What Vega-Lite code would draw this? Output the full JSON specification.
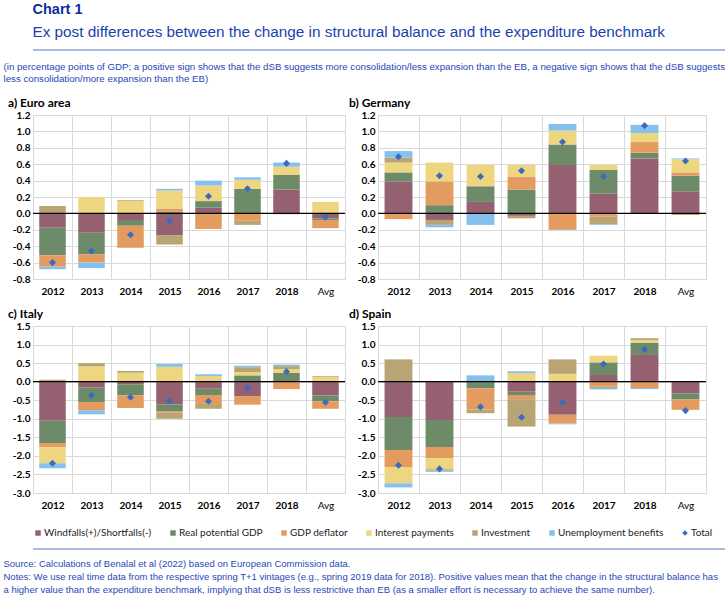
{
  "$schema": "https://vega.github.io/schema/vega-lite/v6.json",
  "background": "white",
  "padding": {"left": 3, "right": 3, "top": 2, "bottom": 2},
  "autosize": {"type": "pad"},
  "config": {
    "font": "Liberation Sans",
    "view": {"stroke": null}
  },
  "datasets": {
    "d": [
      {"panel": "EA", "year": "2012", "comp": "Windfalls(+)/Shortfalls(-)", "value": -0.175},
      {"panel": "EA", "year": "2012", "comp": "Real potential GDP", "value": -0.335},
      {"panel": "EA", "year": "2012", "comp": "GDP deflator", "value": -0.14},
      {"panel": "EA", "year": "2012", "comp": "Investment", "value": 0.09},
      {"panel": "EA", "year": "2012", "comp": "Unemployment benefits", "value": -0.03},
      {"panel": "EA", "year": "2012", "comp": "Total", "value": -0.6},
      {"panel": "EA", "year": "2013", "comp": "Windfalls(+)/Shortfalls(-)", "value": -0.236},
      {"panel": "EA", "year": "2013", "comp": "Real potential GDP", "value": -0.264},
      {"panel": "EA", "year": "2013", "comp": "GDP deflator", "value": -0.1},
      {"panel": "EA", "year": "2013", "comp": "Interest payments", "value": 0.2},
      {"panel": "EA", "year": "2013", "comp": "Unemployment benefits", "value": -0.067},
      {"panel": "EA", "year": "2013", "comp": "Total", "value": -0.46},
      {"panel": "EA", "year": "2014", "comp": "Windfalls(+)/Shortfalls(-)", "value": -0.08},
      {"panel": "EA", "year": "2014", "comp": "Real potential GDP", "value": -0.07},
      {"panel": "EA", "year": "2014", "comp": "GDP deflator", "value": -0.27},
      {"panel": "EA", "year": "2014", "comp": "Interest payments", "value": 0.15},
      {"panel": "EA", "year": "2014", "comp": "Investment", "value": 0.01},
      {"panel": "EA", "year": "2014", "comp": "Total", "value": -0.26},
      {"panel": "EA", "year": "2015", "comp": "Windfalls(+)/Shortfalls(-)", "value": -0.27},
      {"panel": "EA", "year": "2015", "comp": "Real potential GDP", "value": 0.02},
      {"panel": "EA", "year": "2015", "comp": "GDP deflator", "value": 0.04},
      {"panel": "EA", "year": "2015", "comp": "Interest payments", "value": 0.22},
      {"panel": "EA", "year": "2015", "comp": "Investment", "value": -0.11},
      {"panel": "EA", "year": "2015", "comp": "Unemployment benefits", "value": 0.02},
      {"panel": "EA", "year": "2015", "comp": "Total", "value": -0.09},
      {"panel": "EA", "year": "2016", "comp": "Windfalls(+)/Shortfalls(-)", "value": 0.07},
      {"panel": "EA", "year": "2016", "comp": "Real potential GDP", "value": 0.08},
      {"panel": "EA", "year": "2016", "comp": "GDP deflator", "value": -0.19},
      {"panel": "EA", "year": "2016", "comp": "Interest payments", "value": 0.19},
      {"panel": "EA", "year": "2016", "comp": "Unemployment benefits", "value": 0.06},
      {"panel": "EA", "year": "2016", "comp": "Total", "value": 0.21},
      {"panel": "EA", "year": "2017", "comp": "Real potential GDP", "value": 0.3},
      {"panel": "EA", "year": "2017", "comp": "GDP deflator", "value": -0.09},
      {"panel": "EA", "year": "2017", "comp": "Interest payments", "value": 0.11},
      {"panel": "EA", "year": "2017", "comp": "Investment", "value": -0.05},
      {"panel": "EA", "year": "2017", "comp": "Unemployment benefits", "value": 0.03},
      {"panel": "EA", "year": "2017", "comp": "Total", "value": 0.3},
      {"panel": "EA", "year": "2018", "comp": "Windfalls(+)/Shortfalls(-)", "value": 0.29},
      {"panel": "EA", "year": "2018", "comp": "Real potential GDP", "value": 0.18},
      {"panel": "EA", "year": "2018", "comp": "GDP deflator", "value": -0.01},
      {"panel": "EA", "year": "2018", "comp": "Interest payments", "value": 0.1},
      {"panel": "EA", "year": "2018", "comp": "Unemployment benefits", "value": 0.05},
      {"panel": "EA", "year": "2018", "comp": "Total", "value": 0.61},
      {"panel": "EA", "year": "Avg", "comp": "Windfalls(+)/Shortfalls(-)", "value": -0.06},
      {"panel": "EA", "year": "Avg", "comp": "Real potential GDP", "value": -0.02},
      {"panel": "EA", "year": "Avg", "comp": "GDP deflator", "value": -0.1},
      {"panel": "EA", "year": "Avg", "comp": "Interest payments", "value": 0.14},
      {"panel": "EA", "year": "Avg", "comp": "Total", "value": -0.045},

      {"panel": "DE", "year": "2012", "comp": "Windfalls(+)/Shortfalls(-)", "value": 0.39},
      {"panel": "DE", "year": "2012", "comp": "Real potential GDP", "value": 0.11},
      {"panel": "DE", "year": "2012", "comp": "GDP deflator", "value": -0.07},
      {"panel": "DE", "year": "2012", "comp": "Interest payments", "value": 0.12},
      {"panel": "DE", "year": "2012", "comp": "Investment", "value": 0.06},
      {"panel": "DE", "year": "2012", "comp": "Unemployment benefits", "value": 0.08},
      {"panel": "DE", "year": "2012", "comp": "Total", "value": 0.69},
      {"panel": "DE", "year": "2013", "comp": "Windfalls(+)/Shortfalls(-)", "value": -0.08},
      {"panel": "DE", "year": "2013", "comp": "Real potential GDP", "value": 0.1},
      {"panel": "DE", "year": "2013", "comp": "GDP deflator", "value": 0.29},
      {"panel": "DE", "year": "2013", "comp": "Interest payments", "value": 0.23},
      {"panel": "DE", "year": "2013", "comp": "Investment", "value": -0.06},
      {"panel": "DE", "year": "2013", "comp": "Unemployment benefits", "value": -0.03},
      {"panel": "DE", "year": "2013", "comp": "Total", "value": 0.46},
      {"panel": "DE", "year": "2014", "comp": "Windfalls(+)/Shortfalls(-)", "value": 0.14},
      {"panel": "DE", "year": "2014", "comp": "Real potential GDP", "value": 0.19},
      {"panel": "DE", "year": "2014", "comp": "GDP deflator", "value": 0.01},
      {"panel": "DE", "year": "2014", "comp": "Interest payments", "value": 0.25},
      {"panel": "DE", "year": "2014", "comp": "Unemployment benefits", "value": -0.14},
      {"panel": "DE", "year": "2014", "comp": "Total", "value": 0.45},
      {"panel": "DE", "year": "2015", "comp": "Windfalls(+)/Shortfalls(-)", "value": -0.03},
      {"panel": "DE", "year": "2015", "comp": "Real potential GDP", "value": 0.29},
      {"panel": "DE", "year": "2015", "comp": "GDP deflator", "value": 0.16},
      {"panel": "DE", "year": "2015", "comp": "Interest payments", "value": 0.14},
      {"panel": "DE", "year": "2015", "comp": "Investment", "value": -0.03},
      {"panel": "DE", "year": "2015", "comp": "Total", "value": 0.52},
      {"panel": "DE", "year": "2016", "comp": "Windfalls(+)/Shortfalls(-)", "value": 0.59},
      {"panel": "DE", "year": "2016", "comp": "Real potential GDP", "value": 0.25},
      {"panel": "DE", "year": "2016", "comp": "GDP deflator", "value": -0.19},
      {"panel": "DE", "year": "2016", "comp": "Interest payments", "value": 0.17},
      {"panel": "DE", "year": "2016", "comp": "Investment", "value": -0.01},
      {"panel": "DE", "year": "2016", "comp": "Unemployment benefits", "value": 0.08},
      {"panel": "DE", "year": "2016", "comp": "Total", "value": 0.87},
      {"panel": "DE", "year": "2017", "comp": "Windfalls(+)/Shortfalls(-)", "value": 0.24},
      {"panel": "DE", "year": "2017", "comp": "Real potential GDP", "value": 0.29},
      {"panel": "DE", "year": "2017", "comp": "GDP deflator", "value": -0.04},
      {"panel": "DE", "year": "2017", "comp": "Interest payments", "value": 0.06},
      {"panel": "DE", "year": "2017", "comp": "Investment", "value": -0.09},
      {"panel": "DE", "year": "2017", "comp": "Unemployment benefits", "value": -0.01},
      {"panel": "DE", "year": "2017", "comp": "Total", "value": 0.45},
      {"panel": "DE", "year": "2018", "comp": "Windfalls(+)/Shortfalls(-)", "value": 0.67},
      {"panel": "DE", "year": "2018", "comp": "Real potential GDP", "value": 0.07},
      {"panel": "DE", "year": "2018", "comp": "GDP deflator", "value": 0.13},
      {"panel": "DE", "year": "2018", "comp": "Interest payments", "value": 0.11},
      {"panel": "DE", "year": "2018", "comp": "Unemployment benefits", "value": 0.1},
      {"panel": "DE", "year": "2018", "comp": "Total", "value": 1.07},
      {"panel": "DE", "year": "Avg", "comp": "Windfalls(+)/Shortfalls(-)", "value": 0.27},
      {"panel": "DE", "year": "Avg", "comp": "Real potential GDP", "value": 0.19},
      {"panel": "DE", "year": "Avg", "comp": "GDP deflator", "value": 0.04},
      {"panel": "DE", "year": "Avg", "comp": "Interest payments", "value": 0.16},
      {"panel": "DE", "year": "Avg", "comp": "Investment", "value": -0.02},
      {"panel": "DE", "year": "Avg", "comp": "Unemployment benefits", "value": 0.01},
      {"panel": "DE", "year": "Avg", "comp": "Total", "value": 0.64},

      {"panel": "IT", "year": "2012", "comp": "Windfalls(+)/Shortfalls(-)", "value": -1.05},
      {"panel": "IT", "year": "2012", "comp": "Real potential GDP", "value": -0.6},
      {"panel": "IT", "year": "2012", "comp": "GDP deflator", "value": -0.12},
      {"panel": "IT", "year": "2012", "comp": "Interest payments", "value": -0.43},
      {"panel": "IT", "year": "2012", "comp": "Investment", "value": 0.05},
      {"panel": "IT", "year": "2012", "comp": "Unemployment benefits", "value": -0.13},
      {"panel": "IT", "year": "2012", "comp": "Total", "value": -2.2},
      {"panel": "IT", "year": "2013", "comp": "Windfalls(+)/Shortfalls(-)", "value": -0.16},
      {"panel": "IT", "year": "2013", "comp": "Real potential GDP", "value": -0.39},
      {"panel": "IT", "year": "2013", "comp": "GDP deflator", "value": -0.22},
      {"panel": "IT", "year": "2013", "comp": "Interest payments", "value": 0.41},
      {"panel": "IT", "year": "2013", "comp": "Investment", "value": 0.09},
      {"panel": "IT", "year": "2013", "comp": "Unemployment benefits", "value": -0.11},
      {"panel": "IT", "year": "2013", "comp": "Total", "value": -0.37},
      {"panel": "IT", "year": "2014", "comp": "Windfalls(+)/Shortfalls(-)", "value": -0.07},
      {"panel": "IT", "year": "2014", "comp": "Real potential GDP", "value": -0.3},
      {"panel": "IT", "year": "2014", "comp": "GDP deflator", "value": -0.34},
      {"panel": "IT", "year": "2014", "comp": "Interest payments", "value": 0.24},
      {"panel": "IT", "year": "2014", "comp": "Investment", "value": 0.05},
      {"panel": "IT", "year": "2014", "comp": "Total", "value": -0.42},
      {"panel": "IT", "year": "2015", "comp": "Windfalls(+)/Shortfalls(-)", "value": -0.61},
      {"panel": "IT", "year": "2015", "comp": "Real potential GDP", "value": -0.18},
      {"panel": "IT", "year": "2015", "comp": "GDP deflator", "value": -0.04},
      {"panel": "IT", "year": "2015", "comp": "Interest payments", "value": 0.4},
      {"panel": "IT", "year": "2015", "comp": "Investment", "value": -0.17},
      {"panel": "IT", "year": "2015", "comp": "Unemployment benefits", "value": 0.08},
      {"panel": "IT", "year": "2015", "comp": "Total", "value": -0.51},
      {"panel": "IT", "year": "2016", "comp": "Windfalls(+)/Shortfalls(-)", "value": -0.19},
      {"panel": "IT", "year": "2016", "comp": "Real potential GDP", "value": -0.17},
      {"panel": "IT", "year": "2016", "comp": "GDP deflator", "value": -0.24},
      {"panel": "IT", "year": "2016", "comp": "Interest payments", "value": 0.15},
      {"panel": "IT", "year": "2016", "comp": "Investment", "value": -0.13},
      {"panel": "IT", "year": "2016", "comp": "Unemployment benefits", "value": 0.05},
      {"panel": "IT", "year": "2016", "comp": "Total", "value": -0.53},
      {"panel": "IT", "year": "2017", "comp": "Windfalls(+)/Shortfalls(-)", "value": -0.4},
      {"panel": "IT", "year": "2017", "comp": "Real potential GDP", "value": 0.17},
      {"panel": "IT", "year": "2017", "comp": "GDP deflator", "value": -0.22},
      {"panel": "IT", "year": "2017", "comp": "Interest payments", "value": 0.09},
      {"panel": "IT", "year": "2017", "comp": "Investment", "value": 0.13},
      {"panel": "IT", "year": "2017", "comp": "Unemployment benefits", "value": 0.04},
      {"panel": "IT", "year": "2017", "comp": "Total", "value": -0.16},
      {"panel": "IT", "year": "2018", "comp": "Real potential GDP", "value": 0.24},
      {"panel": "IT", "year": "2018", "comp": "GDP deflator", "value": -0.2},
      {"panel": "IT", "year": "2018", "comp": "Interest payments", "value": 0.1},
      {"panel": "IT", "year": "2018", "comp": "Investment", "value": 0.08},
      {"panel": "IT", "year": "2018", "comp": "Unemployment benefits", "value": 0.04},
      {"panel": "IT", "year": "2018", "comp": "Total", "value": 0.27},
      {"panel": "IT", "year": "Avg", "comp": "Windfalls(+)/Shortfalls(-)", "value": -0.37},
      {"panel": "IT", "year": "Avg", "comp": "Real potential GDP", "value": -0.16},
      {"panel": "IT", "year": "Avg", "comp": "GDP deflator", "value": -0.2},
      {"panel": "IT", "year": "Avg", "comp": "Interest payments", "value": 0.13},
      {"panel": "IT", "year": "Avg", "comp": "Investment", "value": 0.02},
      {"panel": "IT", "year": "Avg", "comp": "Total", "value": -0.555},

      {"panel": "ES", "year": "2012", "comp": "Windfalls(+)/Shortfalls(-)", "value": -0.95},
      {"panel": "ES", "year": "2012", "comp": "Real potential GDP", "value": -0.89},
      {"panel": "ES", "year": "2012", "comp": "GDP deflator", "value": -0.46},
      {"panel": "ES", "year": "2012", "comp": "Interest payments", "value": -0.44},
      {"panel": "ES", "year": "2012", "comp": "Investment", "value": 0.6},
      {"panel": "ES", "year": "2012", "comp": "Unemployment benefits", "value": -0.11},
      {"panel": "ES", "year": "2012", "comp": "Total", "value": -2.25},
      {"panel": "ES", "year": "2013", "comp": "Windfalls(+)/Shortfalls(-)", "value": -1.03},
      {"panel": "ES", "year": "2013", "comp": "Real potential GDP", "value": -0.73},
      {"panel": "ES", "year": "2013", "comp": "GDP deflator", "value": -0.3},
      {"panel": "ES", "year": "2013", "comp": "Interest payments", "value": -0.3},
      {"panel": "ES", "year": "2013", "comp": "Investment", "value": -0.04},
      {"panel": "ES", "year": "2013", "comp": "Unemployment benefits", "value": -0.03},
      {"panel": "ES", "year": "2013", "comp": "Total", "value": -2.35},
      {"panel": "ES", "year": "2014", "comp": "Real potential GDP", "value": -0.18},
      {"panel": "ES", "year": "2014", "comp": "GDP deflator", "value": -0.57},
      {"panel": "ES", "year": "2014", "comp": "Investment", "value": -0.1},
      {"panel": "ES", "year": "2014", "comp": "Unemployment benefits", "value": 0.17},
      {"panel": "ES", "year": "2014", "comp": "Total", "value": -0.68},
      {"panel": "ES", "year": "2015", "comp": "Windfalls(+)/Shortfalls(-)", "value": -0.27},
      {"panel": "ES", "year": "2015", "comp": "Real potential GDP", "value": -0.09},
      {"panel": "ES", "year": "2015", "comp": "GDP deflator", "value": -0.11},
      {"panel": "ES", "year": "2015", "comp": "Interest payments", "value": 0.23},
      {"panel": "ES", "year": "2015", "comp": "Investment", "value": -0.74},
      {"panel": "ES", "year": "2015", "comp": "Unemployment benefits", "value": 0.05},
      {"panel": "ES", "year": "2015", "comp": "Total", "value": -0.96},
      {"panel": "ES", "year": "2016", "comp": "Windfalls(+)/Shortfalls(-)", "value": -0.89},
      {"panel": "ES", "year": "2016", "comp": "GDP deflator", "value": -0.24},
      {"panel": "ES", "year": "2016", "comp": "Interest payments", "value": 0.21},
      {"panel": "ES", "year": "2016", "comp": "Investment", "value": 0.39},
      {"panel": "ES", "year": "2016", "comp": "Unemployment benefits", "value": -0.02},
      {"panel": "ES", "year": "2016", "comp": "Total", "value": -0.555},
      {"panel": "ES", "year": "2017", "comp": "Windfalls(+)/Shortfalls(-)", "value": 0.18},
      {"panel": "ES", "year": "2017", "comp": "Real potential GDP", "value": 0.34},
      {"panel": "ES", "year": "2017", "comp": "GDP deflator", "value": -0.13},
      {"panel": "ES", "year": "2017", "comp": "Interest payments", "value": 0.18},
      {"panel": "ES", "year": "2017", "comp": "Investment", "value": -0.04},
      {"panel": "ES", "year": "2017", "comp": "Unemployment benefits", "value": -0.04},
      {"panel": "ES", "year": "2017", "comp": "Total", "value": 0.475},
      {"panel": "ES", "year": "2018", "comp": "Windfalls(+)/Shortfalls(-)", "value": 0.72},
      {"panel": "ES", "year": "2018", "comp": "Real potential GDP", "value": 0.33},
      {"panel": "ES", "year": "2018", "comp": "GDP deflator", "value": -0.17},
      {"panel": "ES", "year": "2018", "comp": "Interest payments", "value": 0.07},
      {"panel": "ES", "year": "2018", "comp": "Investment", "value": 0.05},
      {"panel": "ES", "year": "2018", "comp": "Unemployment benefits", "value": -0.03},
      {"panel": "ES", "year": "2018", "comp": "Total", "value": 0.87},
      {"panel": "ES", "year": "Avg", "comp": "Windfalls(+)/Shortfalls(-)", "value": -0.32},
      {"panel": "ES", "year": "Avg", "comp": "Real potential GDP", "value": -0.16},
      {"panel": "ES", "year": "Avg", "comp": "GDP deflator", "value": -0.28},
      {"panel": "ES", "year": "Avg", "comp": "Total", "value": -0.78}
    ]
  },
  "title": {
    "text": [
      "Source: Calculations of Benalal et al (2022) based on European Commission data.",
      "Notes: We use real time data from the respective spring T+1 vintages (e.g., spring 2019 data for 2018). Positive values mean that the change in the structural balance has",
      "a higher value than the expenditure benchmark, implying that dSB is less restrictive than EB (as a smaller effort is necessary to achieve the same number)."
    ],
    "orient": "bottom",
    "anchor": "start",
    "frame": "bounds",
    "font": "Liberation Sans",
    "fontSize": 9.5,
    "fontWeight": "normal",
    "color": "#1f47b8",
    "lineHeight": 13,
    "offset": 9
  },
  "resolve": {"scale": {"color": "independent"}},
  "columns": 1,
  "align": "none",
  "spacing": 10,
  "concat": [
    {
      "title": {
        "text": "Chart 1",
        "subtitle": "Ex post differences between the change in structural balance and the expenditure benchmark",
        "anchor": "start",
        "frame": "bounds",
        "font": "Liberation Sans",
        "fontSize": 14.5,
        "fontWeight": "bold",
        "color": "#0a2f9a",
        "subtitleFont": "Liberation Sans",
        "subtitleFontSize": 15.3,
        "subtitleColor": "#1a42ad",
        "subtitlePadding": 7,
        "offset": 8
      },
      "data": {"values": [{}]},
      "mark": {"type": "rule", "color": "#5a78c8", "strokeWidth": 1},
      "encoding": {"y": {"datum": 0, "type": "quantitative", "scale": {"domain": [0, 1]}, "axis": null}},
      "width": 719,
      "height": 1
    },
    {
      "title": {
        "text": [
          "(in percentage points of GDP; a positive sign shows that the dSB suggests more consolidation/less expansion than the EB, a negative sign shows that the dSB suggests",
          "less consolidation/more expansion than the EB)"
        ],
        "anchor": "start",
        "frame": "bounds",
        "font": "Liberation Sans",
        "fontSize": 9.7,
        "fontWeight": "normal",
        "color": "#1f47b8",
        "lineHeight": 12,
        "offset": 13
      },
      "data": {"name": "d"},
      "columns": 2,
      "spacing": {"column": 1, "row": 10},
      "resolve": {"scale": {"y": "independent", "x": "independent"}},
      "concat": [
        {
          "title": {"text": "a) Euro area", "anchor": "start", "frame": "bounds", "dx": 4, "font": "Lato", "fontSize": 12, "fontWeight": "bold", "color": "black", "offset": 0},
          "width": 312,
          "height": 164,
          "view": {"stroke": "#d9d9d9"},
          "transform": [{"filter": "datum.panel == 'EA'"}],
          "layer": [
            {
              "transform": [
                {"filter": "datum.comp != 'Total'"},
                {"calculate": "indexof(['Windfalls(+)/Shortfalls(-)','Real potential GDP','GDP deflator','Interest payments','Investment','Unemployment benefits'], datum.comp)", "as": "ord"}
              ],
              "mark": {"type": "bar", "width": {"band": 0.68}},
              "encoding": {
                "x": {"field": "year", "type": "nominal", "sort": ["2012","2013","2014","2015","2016","2017","2018","Avg"], "scale": {"paddingInner": 0, "paddingOuter": 0},
                  "axis": {"title": null, "ticks": false, "domain": false, "grid": true, "gridColor": "#d9d9d9", "tickBand": "extent", "labelAngle": 0, "labelFont": "Lato", "labelFontSize": 10, "labelColor": "black", "labelPadding": 7, "labelFontWeight": {"condition": {"test": "datum.value == 'Avg'", "value": "normal"}, "value": "bold"}}},
                "y": {"field": "value", "type": "quantitative", "stack": "zero", "scale": {"domain": [-0.8, 1.2], "nice": false},
                  "axis": {"title": null, "values": [-0.8,-0.6,-0.4,-0.2,0,0.2,0.4,0.6,0.8,1.0,1.2], "tickCount": 20, "format": ".1f", "labelExpr": "replace(datum.label, '\u2212', '-')", "labelOverlap": false, "ticks": false, "domain": false, "grid": true, "gridColor": "#d9d9d9", "labelFont": "Lato", "labelFontSize": 10, "labelFontWeight": "bold", "labelColor": "black", "labelPadding": 3, "minExtent": 29}},
                "color": {"field": "comp", "type": "nominal",
                  "scale": {"domain": ["Windfalls(+)/Shortfalls(-)","Real potential GDP","GDP deflator","Interest payments","Investment","Unemployment benefits","Total"], "range": ["#956070","#6e8b69","#e49b5f","#edd67f","#b9a574","#85c1ec","#3a6bc0"]},
                  "legend": {"title": null, "orient": "bottom", "direction": "horizontal", "columns": 7, "symbolType": "square", "symbolSize": 30, "symbolStrokeWidth": 0, "labelFont": "Lato", "labelFontSize": 10, "labelColor": "#222222", "columnPadding": 16, "labelOffset": 1, "offset": 17,
                    "encode": {"symbols": {"update": {"shape": {"signal": "datum.value === 'Total' ? 'diamond' : 'square'"}}}}}},
                "order": {"field": "ord", "type": "quantitative"}
              }
            },
            {
              "data": {"values": [{}]},
              "mark": {"type": "rule", "color": "black", "strokeWidth": 1.2},
              "encoding": {"y": {"datum": 0}}
            },
            {
              "transform": [{"filter": "datum.comp == 'Total'"}],
              "mark": {"type": "point", "shape": "diamond", "filled": true, "size": 50, "opacity": 1},
              "encoding": {
                "x": {"field": "year", "type": "nominal", "sort": ["2012","2013","2014","2015","2016","2017","2018","Avg"]},
                "y": {"field": "value", "type": "quantitative", "scale": {"domain": [-0.8, 1.2], "nice": false}},
                "color": {"datum": "Total"}
              }
            }
          ]
        },
        {
          "title": {"text": "b) Germany", "anchor": "start", "frame": "bounds", "dx": 0, "font": "Lato", "fontSize": 12, "fontWeight": "bold", "color": "black", "offset": 0},
          "width": 328,
          "height": 164,
          "view": {"stroke": "#d9d9d9"},
          "transform": [{"filter": "datum.panel == 'DE'"}],
          "layer": [
            {
              "transform": [
                {"filter": "datum.comp != 'Total'"},
                {"calculate": "indexof(['Windfalls(+)/Shortfalls(-)','Real potential GDP','GDP deflator','Interest payments','Investment','Unemployment benefits'], datum.comp)", "as": "ord"}
              ],
              "mark": {"type": "bar", "width": {"band": 0.68}},
              "encoding": {
                "x": {"field": "year", "type": "nominal", "sort": ["2012","2013","2014","2015","2016","2017","2018","Avg"], "scale": {"paddingInner": 0, "paddingOuter": 0},
                  "axis": {"title": null, "ticks": false, "domain": false, "grid": true, "gridColor": "#d9d9d9", "tickBand": "extent", "labelAngle": 0, "labelFont": "Lato", "labelFontSize": 10, "labelColor": "black", "labelPadding": 7, "labelFontWeight": {"condition": {"test": "datum.value == 'Avg'", "value": "normal"}, "value": "bold"}}},
                "y": {"field": "value", "type": "quantitative", "stack": "zero", "scale": {"domain": [-0.8, 1.2], "nice": false},
                  "axis": {"title": null, "values": [-0.8,-0.6,-0.4,-0.2,0,0.2,0.4,0.6,0.8,1.0,1.2], "tickCount": 20, "format": ".1f", "labelExpr": "replace(datum.label, '\u2212', '-')", "labelOverlap": false, "ticks": false, "domain": false, "grid": true, "gridColor": "#d9d9d9", "labelFont": "Lato", "labelFontSize": 10, "labelFontWeight": "bold", "labelColor": "black", "labelPadding": 3, "minExtent": 29}},
                "color": {"field": "comp", "type": "nominal"},
                "order": {"field": "ord", "type": "quantitative"}
              }
            },
            {
              "data": {"values": [{}]},
              "mark": {"type": "rule", "color": "black", "strokeWidth": 1.2},
              "encoding": {"y": {"datum": 0}}
            },
            {
              "transform": [{"filter": "datum.comp == 'Total'"}],
              "mark": {"type": "point", "shape": "diamond", "filled": true, "size": 50, "opacity": 1},
              "encoding": {
                "x": {"field": "year", "type": "nominal", "sort": ["2012","2013","2014","2015","2016","2017","2018","Avg"]},
                "y": {"field": "value", "type": "quantitative", "scale": {"domain": [-0.8, 1.2], "nice": false}},
                "color": {"datum": "Total"}
              }
            }
          ]
        },
        {
          "title": {"text": "c) Italy", "anchor": "start", "frame": "bounds", "dx": 4, "font": "Lato", "fontSize": 12, "fontWeight": "bold", "color": "black", "offset": 0},
          "width": 312,
          "height": 167,
          "view": {"stroke": "#d9d9d9"},
          "transform": [{"filter": "datum.panel == 'IT'"}],
          "layer": [
            {
              "transform": [
                {"filter": "datum.comp != 'Total'"},
                {"calculate": "indexof(['Windfalls(+)/Shortfalls(-)','Real potential GDP','GDP deflator','Interest payments','Investment','Unemployment benefits'], datum.comp)", "as": "ord"}
              ],
              "mark": {"type": "bar", "width": {"band": 0.68}},
              "encoding": {
                "x": {"field": "year", "type": "nominal", "sort": ["2012","2013","2014","2015","2016","2017","2018","Avg"], "scale": {"paddingInner": 0, "paddingOuter": 0},
                  "axis": {"title": null, "ticks": false, "domain": false, "grid": true, "gridColor": "#d9d9d9", "tickBand": "extent", "labelAngle": 0, "labelFont": "Lato", "labelFontSize": 10, "labelColor": "black", "labelPadding": 7, "labelFontWeight": {"condition": {"test": "datum.value == 'Avg'", "value": "normal"}, "value": "bold"}}},
                "y": {"field": "value", "type": "quantitative", "stack": "zero", "scale": {"domain": [-3.0, 1.5], "nice": false},
                  "axis": {"title": null, "values": [-3.0,-2.5,-2.0,-1.5,-1.0,-0.5,0,0.5,1.0,1.5], "tickCount": 20, "format": ".1f", "labelExpr": "replace(datum.label, '\u2212', '-')", "labelOverlap": false, "ticks": false, "domain": false, "grid": true, "gridColor": "#d9d9d9", "labelFont": "Lato", "labelFontSize": 10, "labelFontWeight": "bold", "labelColor": "black", "labelPadding": 3, "minExtent": 29}},
                "color": {"field": "comp", "type": "nominal"},
                "order": {"field": "ord", "type": "quantitative"}
              }
            },
            {
              "data": {"values": [{}]},
              "mark": {"type": "rule", "color": "black", "strokeWidth": 1.2},
              "encoding": {"y": {"datum": 0}}
            },
            {
              "transform": [{"filter": "datum.comp == 'Total'"}],
              "mark": {"type": "point", "shape": "diamond", "filled": true, "size": 50, "opacity": 1},
              "encoding": {
                "x": {"field": "year", "type": "nominal", "sort": ["2012","2013","2014","2015","2016","2017","2018","Avg"]},
                "y": {"field": "value", "type": "quantitative", "scale": {"domain": [-3.0, 1.5], "nice": false}},
                "color": {"datum": "Total"}
              }
            }
          ]
        },
        {
          "title": {"text": "d) Spain", "anchor": "start", "frame": "bounds", "dx": 0, "font": "Lato", "fontSize": 12, "fontWeight": "bold", "color": "black", "offset": 0},
          "width": 328,
          "height": 167,
          "view": {"stroke": "#d9d9d9"},
          "transform": [{"filter": "datum.panel == 'ES'"}],
          "layer": [
            {
              "transform": [
                {"filter": "datum.comp != 'Total'"},
                {"calculate": "indexof(['Windfalls(+)/Shortfalls(-)','Real potential GDP','GDP deflator','Interest payments','Investment','Unemployment benefits'], datum.comp)", "as": "ord"}
              ],
              "mark": {"type": "bar", "width": {"band": 0.68}},
              "encoding": {
                "x": {"field": "year", "type": "nominal", "sort": ["2012","2013","2014","2015","2016","2017","2018","Avg"], "scale": {"paddingInner": 0, "paddingOuter": 0},
                  "axis": {"title": null, "ticks": false, "domain": false, "grid": true, "gridColor": "#d9d9d9", "tickBand": "extent", "labelAngle": 0, "labelFont": "Lato", "labelFontSize": 10, "labelColor": "black", "labelPadding": 7, "labelFontWeight": {"condition": {"test": "datum.value == 'Avg'", "value": "normal"}, "value": "bold"}}},
                "y": {"field": "value", "type": "quantitative", "stack": "zero", "scale": {"domain": [-3.0, 1.5], "nice": false},
                  "axis": {"title": null, "values": [-3.0,-2.5,-2.0,-1.5,-1.0,-0.5,0,0.5,1.0,1.5], "tickCount": 20, "format": ".1f", "labelExpr": "replace(datum.label, '\u2212', '-')", "labelOverlap": false, "ticks": false, "domain": false, "grid": true, "gridColor": "#d9d9d9", "labelFont": "Lato", "labelFontSize": 10, "labelFontWeight": "bold", "labelColor": "black", "labelPadding": 3, "minExtent": 29}},
                "color": {"field": "comp", "type": "nominal"},
                "order": {"field": "ord", "type": "quantitative"}
              }
            },
            {
              "data": {"values": [{}]},
              "mark": {"type": "rule", "color": "black", "strokeWidth": 1.2},
              "encoding": {"y": {"datum": 0}}
            },
            {
              "transform": [{"filter": "datum.comp == 'Total'"}],
              "mark": {"type": "point", "shape": "diamond", "filled": true, "size": 50, "opacity": 1},
              "encoding": {
                "x": {"field": "year", "type": "nominal", "sort": ["2012","2013","2014","2015","2016","2017","2018","Avg"]},
                "y": {"field": "value", "type": "quantitative", "scale": {"domain": [-3.0, 1.5], "nice": false}},
                "color": {"datum": "Total"}
              }
            }
          ]
        }
      ]
    },
    {
      "data": {"values": [{}]},
      "mark": {"type": "rule", "color": "#5a78c8", "strokeWidth": 1},
      "encoding": {"y": {"datum": 0, "type": "quantitative", "scale": {"domain": [0, 1]}, "axis": null}},
      "width": 719,
      "height": 1
    }
  ]
}
